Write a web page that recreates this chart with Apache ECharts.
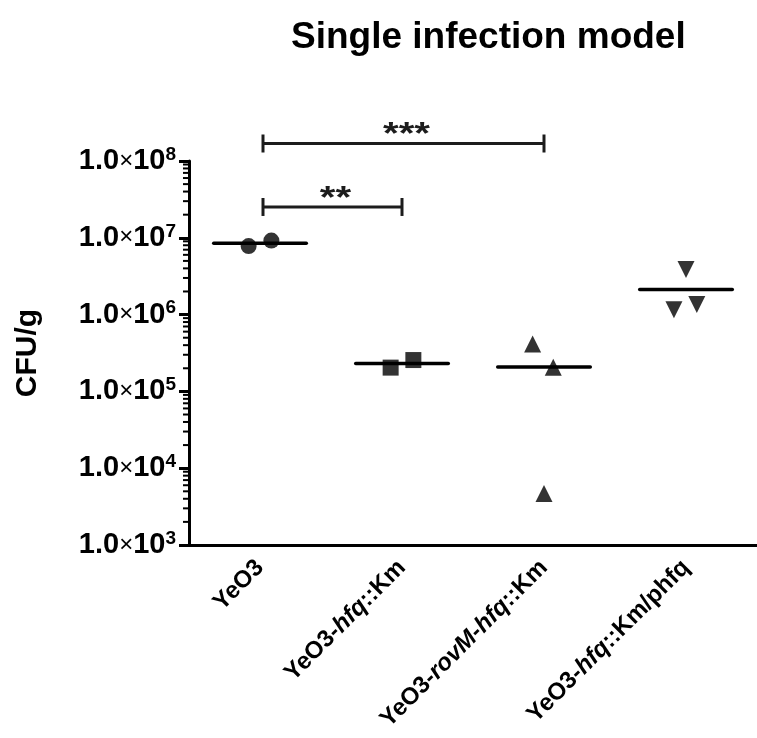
<!DOCTYPE html>
<html><head><meta charset="utf-8">
<script src="https://cdn.jsdelivr.net/npm/echarts@6/dist/echarts.min.js"></script>
<style>html,body{margin:0;padding:0;background:#fff}#c{width:757px;height:738px}</style>
</head><body><div id="c"></div>
<script>
// ---- data ----
const categories = ['YeO3', 'YeO3-hfq::Km', 'YeO3-rovM-hfq::Km', 'YeO3-hfq::Km/phfq'];
const catLabels = ['YeO3', 'YeO3-{i|hfq}::Km', 'YeO3-{i|rovM}-{i|hfq}::Km', 'YeO3-{i|hfq}::Km/phfq'];
const yTicks = [1e3, 1e4, 1e5, 1e6, 1e7, 1e8];

const yeo3Values = [7.8e6, 9.2e6];
const yeo3Jitter = [-0.08, 0.08];
const hfqValues = [2.04e5, 2.56e5];
const hfqJitter = [-0.08, 0.08];
const rovMValues = [4.13e5, 2.07e5, 4.67e3];
const rovMJitter = [-0.08, 0.065, 0];
const phfqValues = [3.87e6, 1.16e6, 1.35e6];
const phfqJitter = [0, -0.085, 0.076];

// significance brackets: [from category, to category, level, label]
const brackets = [[0, 1, 2.52e7, '**'], [0, 2, 1.69e8, '***']];

// ---- helpers ----
const F = 'Liberation Sans, Arial, Helvetica, sans-serif';
const mean = a => a.reduce((s, v) => s + v, 0) / a.length;
const groups = [
  {vals: yeo3Values, jit: yeo3Jitter, symbol: 'circle', size: 16, rot: 0},
  {vals: hfqValues, jit: hfqJitter, symbol: 'rect', size: 16, rot: 0},
  {vals: rovMValues, jit: rovMJitter, symbol: 'triangle', size: 17, rot: 0},
  {vals: phfqValues, jit: phfqJitter, symbol: 'triangle', size: 17, rot: 180}
];
const minorTicks = [];
for (let i = 0; i < yTicks.length - 1; i++) {
  for (let m = 2; m <= 9; m++) minorTicks.push([0, yTicks[i] * m]);
}

const series = [];
groups.forEach((g, gi) => {
  series.push({
    type: 'scatter', xAxisIndex: 1, yAxisIndex: 0,
    symbol: g.symbol, symbolSize: g.size, symbolRotate: g.rot,
    itemStyle: {color: '#000'},
    data: g.vals.map((v, k) => [gi + g.jit[k], v]),
    z: 5
  });
});
// mean lines
series.push({
  type: 'custom', xAxisIndex: 1, yAxisIndex: 0,
  data: groups.map((g, gi) => [gi, mean(g.vals)]),
  renderItem: (params, api) => {
    const a = api.coord([api.value(0) - 0.326, api.value(1)]);
    const b = api.coord([api.value(0) + 0.326, api.value(1)]);
    return {type: 'line', shape: {x1: a[0], y1: a[1], x2: b[0], y2: b[1]},
      style: {stroke: '#000', lineWidth: 3.5, lineCap: 'round'}};
  },
  z: 4
});
// minor ticks on log axis
series.push({
  type: 'custom', xAxisIndex: 1, yAxisIndex: 0, silent: true,
  data: minorTicks,
  renderItem: (params, api) => {
    const p = api.coord([0, api.value(1)]);
    const x0 = params.coordSys.x;
    return {type: 'line', shape: {x1: x0 - 6, y1: p[1], x2: x0, y2: p[1]},
      style: {stroke: '#000', lineWidth: 2}};
  }
});
// significance brackets
series.push({
  type: 'custom', xAxisIndex: 1, yAxisIndex: 0, clip: false,
  data: brackets.map(b => [b[0], b[1], b[2]]),
  encode: {x: [0, 1], y: 2},
  renderItem: (params, api) => {
    const a = api.coord([api.value(0), api.value(2)]);
    const b = api.coord([api.value(1), api.value(2)]);
    a[0] += 3;
    const st = {stroke: '#1c1c1c', lineWidth: 3};
    return {type: 'group', children: [
      {type: 'line', shape: {x1: a[0], y1: a[1], x2: b[0], y2: b[1]}, style: st},
      {type: 'line', shape: {x1: a[0], y1: a[1] - 9, x2: a[0], y2: a[1] + 9}, style: st},
      {type: 'line', shape: {x1: b[0], y1: b[1] - 9, x2: b[0], y2: b[1] + 9}, style: st},
      {type: 'text', x: (a[0] + b[0]) / 2 + 3, y: a[1] - 8, scaleX: 1.3,
        style: {text: brackets[params.dataIndex][3], font: 'bold 31px ' + F, fill: '#1c1c1c',
          align: 'center', verticalAlign: 'middle'}}
    ]};
  }
});

const chart = echarts.init(document.getElementById('c'), null, {renderer: 'canvas'});
chart.setOption({
  backgroundColor: '#fff',
  animation: false,
  title: {text: 'Single infection model', left: 286, top: 14,
    textStyle: {fontSize: 37, fontWeight: 'bold', fontFamily: F, color: '#000'}},
  grid: {left: 189, top: 161, width: 577, height: 384, containLabel: false},
  xAxis: [{
    type: 'category', data: categories, boundaryGap: true,
    axisLine: {lineStyle: {color: '#000', width: 3}},
    axisTick: {alignWithLabel: true, length: 10, lineStyle: {color: '#000', width: 3}},
    axisLabel: {rotate: 45, margin: 19, interval: 0, color: '#000',
      fontSize: 24, fontWeight: 'bold', fontFamily: F,
      formatter: (v, i) => catLabels[i],
      rich: {i: {fontSize: 24, fontWeight: 'bold', fontStyle: 'italic', fontFamily: F, color: '#000'}}},
    splitLine: {show: false}
  }, {
    type: 'value', min: -0.5, max: 3.5, show: false
  }],
  yAxis: {
    type: 'log', logBase: 10, min: yTicks[0], max: yTicks[yTicks.length - 1], splitNumber: 5,
    name: 'CFU/g', nameLocation: 'middle', nameRotate: 90, nameGap: 146,
    nameTextStyle: {fontSize: 30, fontWeight: 'bold', fontFamily: F, color: '#000'},
    axisLine: {show: true, onZero: false, lineStyle: {color: '#000', width: 3}},
    axisTick: {show: true, length: 10, lineStyle: {color: '#000', width: 3}},
    splitLine: {show: false},
    axisLabel: {margin: 13, color: '#000',
      formatter: v => '{b|1.0}{x|×}{b|10}{s|' + Math.round(Math.log10(v)) + '}',
      rich: {
        b: {fontSize: 29, fontWeight: 'bold', fontFamily: F, color: '#000', lineHeight: 32},
        x: {fontSize: 24, fontFamily: F, color: '#000', lineHeight: 32},
        s: {fontSize: 19, fontWeight: 'bold', fontFamily: F, color: '#000', verticalAlign: 'top', lineHeight: 19}
      }}
  },
  series: series
});
</script></body></html>
